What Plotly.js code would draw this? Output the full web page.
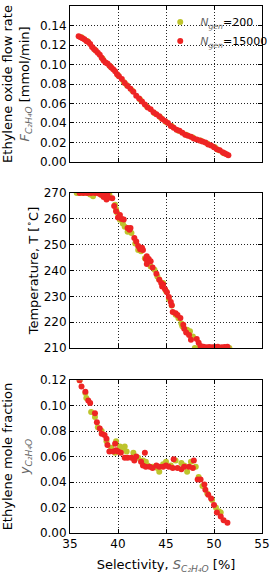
<!DOCTYPE html>
<html>
<head>
<meta charset="utf-8">
<script src="https://cdn.plot.ly/plotly-3.0.1.min.js"></script>
<style>html,body{margin:0;padding:0;background:#fff;}#chart{width:270px;height:576px;}</style>
</head>
<body>
<div id="chart"></div>
<script>
// ---- Data ----
var seriesNames = ['<span style="color:#666"><i>N</i><sub><i>gen</i></sub></span>=200', '<span style="color:#666"><i>N</i><sub><i>gen</i></sub></span>=15000'];

// Panel 1: ethylene oxide flow rate vs selectivity
var flowS200 = [36.2, 36.8, 37.6, 38.4, 39.2, 40.0, 40.6, 40.9, 41.5, 42.3, 43.0, 43.8, 44.4, 45.0, 45.6, 46.3, 47.1, 47.8, 48.6, 49.3, 50.1, 50.5, 51.0];
var flow200  = [0.128, 0.124, 0.115, 0.106, 0.098, 0.089, 0.082, 0.079, 0.073, 0.064, 0.057, 0.050, 0.046, 0.041, 0.037, 0.032, 0.028, 0.025, 0.022, 0.019, 0.015, 0.012, 0.009];
var flowS15000 = [35.9, 36.1, 36.3, 36.5, 36.7, 36.9, 37.1, 37.3, 37.5, 37.7, 37.9, 38.1, 38.3, 38.5, 38.7, 38.9, 39.1, 39.3, 39.5, 39.7, 39.9, 40.1, 40.4, 40.7, 41.0, 41.3, 41.6, 41.9, 42.2, 42.5, 42.8, 43.1, 43.4, 43.7, 44.0, 44.3, 44.6, 44.9, 45.2, 45.5, 45.8, 46.1, 46.4, 46.7, 47.0, 47.3, 47.6, 47.9, 48.2, 48.5, 48.8, 49.1, 49.4, 49.7, 50.0, 50.3, 50.6, 50.9, 51.1, 51.3, 51.5];
var flow15000  = [0.129, 0.128, 0.127, 0.126, 0.124, 0.123, 0.121, 0.118, 0.116, 0.114, 0.112, 0.110, 0.107, 0.104, 0.102, 0.101, 0.099, 0.097, 0.095, 0.093, 0.090, 0.088, 0.085, 0.081, 0.078, 0.075, 0.072, 0.068, 0.065, 0.062, 0.059, 0.056, 0.054, 0.051, 0.049, 0.047, 0.044, 0.042, 0.040, 0.037, 0.035, 0.033, 0.032, 0.030, 0.028, 0.027, 0.026, 0.024, 0.023, 0.022, 0.021, 0.020, 0.018, 0.017, 0.015, 0.013, 0.012, 0.010, 0.009, 0.008, 0.007];

// Panel 2: temperature vs selectivity
var tempS200 = [35.7, 36.0, 36.3, 36.7, 37.1, 37.4, 37.9, 38.3, 38.7, 39.1, 39.7, 39.8, 39.9, 40.2, 40.5, 40.7, 41.0, 41.4, 41.8, 42.1, 42.4, 42.8, 43.0, 43.4, 43.8, 44.1, 44.3, 44.7, 45.0, 45.3, 45.6, 46.0, 46.3, 46.6, 46.7, 47.2, 47.5, 47.8, 48.0, 48.4, 48.8, 49.2, 49.6, 50.0, 50.4, 50.8, 51.2, 51.6];
var temp200  = [270, 270, 270, 270, 269.5, 268.8, 270, 269.2, 270, 269.4, 265.5, 263.8, 262.5, 259.7, 258.2, 257, 255, 254.5, 250.5, 248, 247.5, 244.8, 244.0, 241.6, 240.3, 237.7, 236.5, 235.2, 232, 229, 226.5, 222.9, 221.5, 219.5, 218.4, 217.1, 216.5, 214.5, 210, 210, 210, 210, 210, 210, 210, 210, 210, 210];
var tempS15000 = [36.0, 36.4, 36.8, 37.2, 37.6, 38.0, 38.2, 38.4, 38.5, 38.6, 38.8, 38.9, 39.0, 39.4, 39.6, 39.8, 40.0, 40.2, 40.4, 40.6, 41.0, 41.2, 41.3, 41.7, 41.9, 42.1, 42.3, 42.5, 42.6, 42.9, 43.0, 43.0, 43.2, 43.4, 43.6, 44.0, 44.3, 44.5, 44.6, 44.7, 44.9, 45.1, 45.3, 45.5, 45.6, 45.7, 46.0, 46.2, 46.5, 46.8, 46.9, 47.1, 47.4, 47.6, 48.2, 48.4, 48.6, 48.9, 49.2, 49.5, 49.8, 50.1, 50.4, 50.8, 51.1, 51.4];
var temp15000  = [270, 270, 270, 270, 270, 269.8, 269.5, 270, 268.5, 269.8, 267.5, 269.6, 268.2, 268, 265, 263, 260.5, 261.5, 260, 259.8, 256.5, 255.8, 256.5, 252.6, 251.3, 249.5, 248.3, 248.8, 248, 244.5, 245.5, 242.5, 244.5, 243.6, 241.2, 238.8, 236.4, 235.2, 233.8, 234.6, 232.8, 231.6, 229.8, 227.8, 226.6, 224.0, 223.5, 222.8, 221.6, 219.0, 217.5, 216.0, 215.0, 213.2, 213.5, 212.0, 210.8, 210.5, 210.3, 210.4, 210.3, 210.4, 210.5, 210.3, 210.4, 210.5];

// Panel 3: ethylene mole fraction vs selectivity
var fracS200 = [36.0, 36.6, 36.7, 37.2, 37.6, 37.9, 38.3, 38.8, 39.3, 39.7, 39.8, 40.2, 40.5, 40.7, 40.9, 41.6, 42.1, 42.6, 42.9, 43.1, 43.6, 44.1, 44.3, 44.7, 45.0, 45.5, 46.0, 46.6, 46.9, 47.2, 47.6, 48.1, 48.4, 48.8, 49.3, 49.8, 50.2, 50.5, 50.7];
var frac200  = [0.120, 0.110, 0.106, 0.095, 0.091, 0.083, 0.080, 0.072, 0.067, 0.063, 0.072, 0.068, 0.066, 0.068, 0.064, 0.063, 0.059, 0.057, 0.056, 0.053, 0.052, 0.051, 0.048, 0.054, 0.056, 0.053, 0.057, 0.055, 0.053, 0.048, 0.056, 0.052, 0.044, 0.037, 0.031, 0.026, 0.020, 0.017, 0.016];
var fracS15000 = [36.0, 36.2, 36.6, 36.9, 37.1, 37.6, 37.8, 38.1, 38.3, 38.6, 38.8, 38.9, 39.1, 39.5, 39.7, 39.8, 40.0, 40.3, 40.7, 41.0, 41.4, 41.7, 41.9, 42.4, 42.6, 42.8, 42.9, 43.3, 43.6, 44.0, 44.3, 44.7, 45.0, 45.3, 45.7, 45.8, 46.2, 46.6, 46.9, 47.4, 47.8, 47.9, 48.3, 48.6, 49.0, 49.1, 49.4, 49.7, 50.0, 50.3, 50.7, 51.0, 51.4];
var frac15000  = [0.120, 0.115, 0.111, 0.104, 0.102, 0.094, 0.087, 0.082, 0.078, 0.077, 0.074, 0.069, 0.064, 0.064, 0.070, 0.065, 0.064, 0.063, 0.059, 0.059, 0.059, 0.057, 0.060, 0.056, 0.053, 0.063, 0.052, 0.052, 0.051, 0.053, 0.052, 0.052, 0.053, 0.052, 0.051, 0.058, 0.051, 0.050, 0.052, 0.052, 0.051, 0.057, 0.042, 0.042, 0.038, 0.034, 0.030, 0.027, 0.022, 0.016, 0.013, 0.010, 0.008];

var colors = ['#bec42c', '#ee2424'];

function pts(x, y, i, xa, ya, show) {
  return {
    x: x, y: y, xaxis: xa, yaxis: ya, type: 'scatter', mode: 'markers',
    name: seriesNames[i], showlegend: show, legendgroup: 'g' + i,
    marker: {color: colors[i], size: 6, line: {width: 0}}
  };
}

var data = [
  pts(flowS200, flow200, 0, 'x', 'y', true),
  pts(flowS15000, flow15000, 1, 'x', 'y', true),
  pts(tempS200, temp200, 0, 'x2', 'y2', false),
  pts(tempS15000, temp15000, 1, 'x2', 'y2', false),
  pts(fracS200, frac200, 0, 'x3', 'y3', false),
  pts(fracS15000, frac15000, 1, 'x3', 'y3', false)
];

var gray = '#666';
var tickFont = {family: 'DejaVu Sans', size: 12, color: '#000'};
var titleFont = {family: 'DejaVu Sans', size: 13, color: '#000'};
var gridDash = '1px,2px';

function common() {
  return {
    showline: true, linecolor: '#000', linewidth: 1, mirror: 'ticks',
    ticks: 'inside', ticklen: 4, tickcolor: '#000',
    showgrid: true, gridcolor: '#222', griddash: gridDash, gridwidth: 1,
    zeroline: false, tickfont: tickFont, automargin: false
  };
}

function yax(anchor, domain, range, dtick, fmt, title, standoff) {
  var a = common();
  a.anchor = anchor; a.domain = domain; a.range = range; a.dtick = dtick; a.tickformat = fmt;
  a.title = {text: title, font: titleFont, standoff: standoff};
  return a;
}
function xax(anchor, labels, title) {
  var a = common();
  a.anchor = anchor; a.domain = [0, 1]; a.range = [35, 55]; a.dtick = 5; a.tick0 = 35;
  a.showticklabels = labels;
  if (title) a.title = {text: title, font: titleFont, standoff: 9};
  return a;
}

var layout = {
  width: 270, height: 576,
  margin: {l: 70, r: 8, t: 6, b: 43, autoexpand: false},
  paper_bgcolor: '#fff', plot_bgcolor: '#fff',
  font: {family: 'DejaVu Sans', size: 12, color: '#000'},
  showlegend: true,
  legend: {
    x: 0.47, y: 0.997, xanchor: 'left', yanchor: 'top',
    bgcolor: 'rgba(0,0,0,0)', borderwidth: 0,
    font: {family: 'DejaVu Sans', size: 11, color: '#000'},
    tracegroupgap: 0
  },
  xaxis: xax('y', false),
  xaxis2: xax('y2', false),
  xaxis3: xax('y3', true, 'Selectivity, <span style="color:' + gray + '"><i>S</i><sub><i>C₂H₄O</i></sub></span> [%]'),
  yaxis: yax('x', [0.704, 1], [0, 0.16], 0.02, '.2f',
    'Ethylene oxide flow rate<br><span style="color:' + gray + '"><i>F</i><sub><i>C₂H₄O</i></sub></span> [mmol/min]', 8),
  yaxis2: yax('x2', [0.351, 0.645], [210, 270], 10, 'd',
    'Temperature, T [<sup>∘</sup>C]', 2),
  yaxis3: yax('x3', [0, 0.29], [0, 0.12], 0.02, '.2f',
    'Ethylene mole fraction<br><span style="color:' + gray + '"><i>y</i><sub><i>C₂H₄O</i></sub></span>', 10)
};

Plotly.newPlot('chart', data, layout, {staticPlot: true, displayModeBar: false});
</script>
</body>
</html>
